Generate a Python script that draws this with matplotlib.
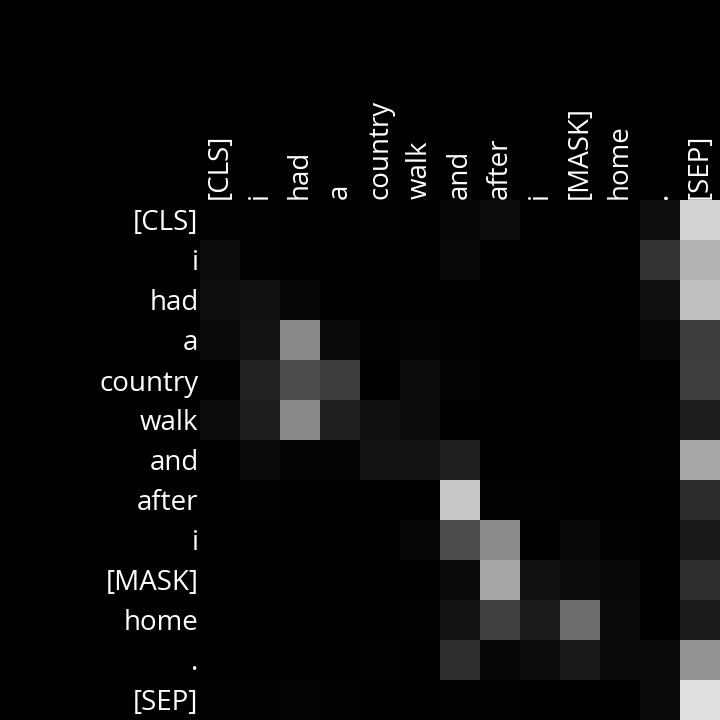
import numpy as np
import matplotlib
matplotlib.use("Agg")
import matplotlib.pyplot as plt

plt.rcParams["font.family"] = ["Open Sans", "DejaVu Sans"]

# token labels (same on both axes)
tokens = ["[CLS]", "i", "had", "a", "country", "walk", "and", "after",
          "i", "[MASK]", "home", ".", "[SEP]"]

# attention weights, one row per query token
row_cls    = [0.010, 0.010, 0.005, 0.000, 0.015, 0.000, 0.030, 0.045, 0.000, 0.000, 0.000, 0.055, 0.830]
row_i      = [0.050, 0.010, 0.000, 0.000, 0.000, 0.000, 0.035, 0.000, 0.000, 0.000, 0.000, 0.200, 0.700]
row_had    = [0.055, 0.070, 0.030, 0.000, 0.000, 0.005, 0.000, 0.000, 0.000, 0.000, 0.000, 0.060, 0.750]
row_a      = [0.040, 0.075, 0.540, 0.040, 0.010, 0.020, 0.010, 0.000, 0.000, 0.000, 0.000, 0.035, 0.235]
row_country= [0.015, 0.140, 0.300, 0.240, 0.005, 0.045, 0.020, 0.000, 0.000, 0.000, 0.000, 0.000, 0.245]
row_walk   = [0.045, 0.115, 0.540, 0.120, 0.065, 0.050, 0.005, 0.000, 0.000, 0.000, 0.000, 0.015, 0.110]
row_and    = [0.000, 0.040, 0.020, 0.020, 0.080, 0.075, 0.120, 0.000, 0.000, 0.000, 0.000, 0.010, 0.660]
row_after  = [0.000, 0.010, 0.000, 0.000, 0.000, 0.000, 0.785, 0.015, 0.010, 0.000, 0.000, 0.000, 0.170]
row_i2     = [0.000, 0.000, 0.000, 0.000, 0.000, 0.025, 0.300, 0.550, 0.000, 0.035, 0.010, 0.000, 0.095]
row_mask   = [0.000, 0.000, 0.000, 0.000, 0.000, 0.005, 0.040, 0.650, 0.070, 0.045, 0.035, 0.000, 0.180]
row_home   = [0.000, 0.000, 0.000, 0.000, 0.000, 0.010, 0.075, 0.250, 0.105, 0.430, 0.040, 0.000, 0.105]
row_dot    = [0.000, 0.000, 0.000, 0.000, 0.010, 0.000, 0.180, 0.025, 0.050, 0.095, 0.040, 0.040, 0.580]
row_sep    = [0.015, 0.015, 0.020, 0.010, 0.005, 0.005, 0.015, 0.010, 0.005, 0.005, 0.005, 0.040, 0.875]

attn = np.array([row_cls, row_i, row_had, row_a, row_country, row_walk, row_and,
                 row_after, row_i2, row_mask, row_home, row_dot, row_sep])

fig = plt.figure(figsize=(7.2, 7.2), dpi=100, facecolor="black")
ax = fig.add_axes([200 / 720, 0, 520 / 720, 520 / 720])
ax.imshow(attn, cmap="gray", vmin=0, vmax=1, aspect="auto", interpolation="nearest")

ax.xaxis.tick_top()
ax.set_xticks(range(len(tokens)))
ax.set_xticklabels(tokens, rotation=90)
ax.set_yticks(range(len(tokens)))
ax.set_yticklabels(tokens)
ax.tick_params(length=0, colors="white", labelsize=20, pad=1)
for s in ax.spines.values():
    s.set_visible(False)

fig.savefig("out.png", dpi=100, facecolor="black")
